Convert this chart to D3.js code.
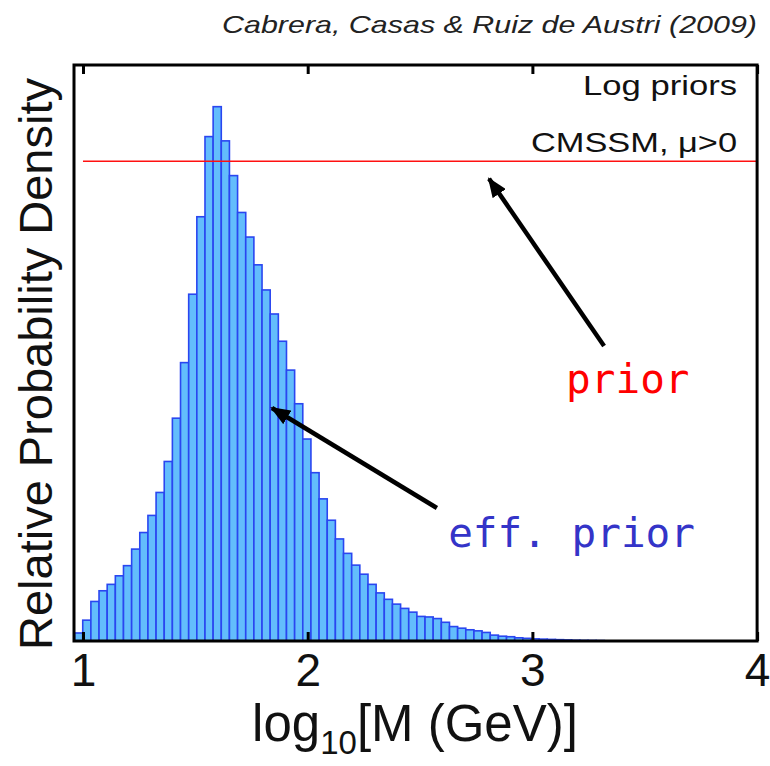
<!DOCTYPE html>
<html><head><meta charset="utf-8">
<script src="https://cdn.jsdelivr.net/npm/d3@7"></script>
<style>html,body{margin:0;padding:0;background:#fff;} svg{display:block}</style>
</head><body><svg id="chart" width="770" height="766"></svg>
<script>
// ---- data ----
const binStart = 0.9626;      // left edge of first histogram bin (log10 M)
const binWidth = 0.03627;     // bin width (log10 M)
const effPrior = [0.015,0.039,0.074,0.094,0.106,0.122,0.141,0.172,0.203,0.235,
  0.278,0.336,0.417,0.521,0.649,0.794,0.944,1.000,0.936,0.871,
  0.802,0.756,0.704,0.657,0.612,0.561,0.507,0.444,0.378,0.315,
  0.266,0.226,0.191,0.164,0.142,0.125,0.106,0.090,0.078,0.069,
  0.061,0.054,0.046,0.045,0.042,0.035,0.027,0.024,0.021,0.019,
  0.016,0.011,0.009,0.008,0.006,0.005,0.004,0.0035,0.003,0.0025,
  0.002,0.0015,0.0012,0.001,0.0008];
const priorLevel = 0.898;      // flat log prior
const priorRange = [1, 4];
const xTicks = [1, 2, 3, 4];
const xDomain = [0.96, 4];
const yDomain = [0, 1.078];
const titleText = "Cabrera, Casas & Ruiz de Austri (2009)";
const infoLines = ["Log priors", "CMSSM, \u03bc>0"];
// annotation arrows in data coordinates: [tailX, tailY, tipX, tipY]
const arrowPrior = [3.319, 0.552, 2.807, 0.865];
const arrowEff = [2.575, 0.249, 1.841, 0.436];
const priorLabelPos = [3.15, 0.464];
const effLabelPos = [2.625, 0.176];

// ---- layout ----
const svg = d3.select("#chart");
const L = 74, R = 757.1, T = 65, B = 641;
const x = d3.scaleLinear().domain(xDomain).range([L, R]);
const y = d3.scaleLinear().domain(yDomain).range([B, T]);

svg.append("defs").append("marker")
  .attr("id", "ah").attr("markerUnits", "userSpaceOnUse")
  .attr("viewBox", "0 0 20 16").attr("refX", 18).attr("refY", 8)
  .attr("markerWidth", 20).attr("markerHeight", 16).attr("orient", "auto")
  .append("path").attr("d", "M0,0 L20,8 L0,16 Z").attr("fill", "#000");

// bars
svg.append("g").selectAll("rect").data(effPrior).join("rect")
  .attr("x", (d, i) => x(binStart + i * binWidth))
  .attr("width", x(binStart + binWidth) - x(binStart))
  .attr("y", d => y(d))
  .attr("height", d => B - y(d))
  .attr("fill", "#63bdfc")
  .attr("stroke", "#2a46f0")
  .attr("stroke-width", 1.6);

// prior line
svg.append("line")
  .attr("x1", x(priorRange[0])).attr("x2", x(priorRange[1]))
  .attr("y1", y(priorLevel)).attr("y2", y(priorLevel))
  .attr("stroke", "#ff1010").attr("stroke-width", 1.6);

// axes
const xb = svg.append("g").attr("transform", `translate(0,${B})`)
  .call(d3.axisBottom(x).tickValues(xTicks).tickSizeInner(-9).tickSizeOuter(0).tickPadding(12).tickFormat(d3.format("d")));
xb.select(".domain").remove();
xb.selectAll(".tick line").attr("stroke", "#000").attr("stroke-width", 3);
xb.selectAll(".tick text").attr("font-family", "Liberation Sans, Arial, sans-serif")
  .attr("font-size", 46).attr("fill", "#111").attr("dy", "0.71em");

const xt = svg.append("g").attr("transform", `translate(0,${T})`)
  .call(d3.axisTop(x).tickValues(xTicks).tickSizeInner(-9).tickSizeOuter(0).tickFormat(""));
xt.select(".domain").remove();
xt.selectAll(".tick line").attr("stroke", "#000").attr("stroke-width", 3);

// frame
svg.append("rect").attr("x", L).attr("y", T).attr("width", R - L).attr("height", B - T)
  .attr("fill", "none").attr("stroke", "#000").attr("stroke-width", 3);

// title
svg.append("text").attr("x", 757).attr("y", 33).attr("text-anchor", "end")
  .attr("font-family", "Liberation Sans, Arial, sans-serif").attr("font-style", "italic")
  .attr("font-size", 24).attr("fill", "#222")
  .attr("textLength", 535).attr("lengthAdjust", "spacingAndGlyphs")
  .text(titleText);

// info lines
const infoY = [95, 152], infoW = [154, 206];
infoLines.forEach((t, i) => {
  svg.append("text").attr("x", 737).attr("y", infoY[i]).attr("text-anchor", "end")
    .attr("font-family", "Liberation Sans, Arial, sans-serif").attr("font-size", 28).attr("fill", "#111")
    .attr("textLength", infoW[i]).attr("lengthAdjust", "spacingAndGlyphs")
    .text(t);
});

// arrows
[arrowPrior, arrowEff].forEach(a => {
  svg.append("line")
    .attr("x1", x(a[0])).attr("y1", y(a[1])).attr("x2", x(a[2])).attr("y2", y(a[3]))
    .attr("stroke", "#000").attr("stroke-width", 4.5).attr("marker-end", "url(#ah)");
});

// annotation labels
svg.append("text").attr("x", x(priorLabelPos[0])).attr("y", y(priorLabelPos[1]))
  .attr("font-family", "DejaVu Sans Mono, monospace").attr("font-size", 41).attr("fill", "#ff0000")
  .text("prior");
svg.append("text").attr("x", x(effLabelPos[0])).attr("y", y(effLabelPos[1]))
  .attr("font-family", "DejaVu Sans Mono, monospace").attr("font-size", 41).attr("fill", "#3434c8")
  .text("eff. prior");

// axis labels
const xl = svg.append("text").attr("x", 415).attr("y", 741).attr("text-anchor", "middle")
  .attr("font-family", "Liberation Sans, Arial, sans-serif").attr("font-size", 51).attr("fill", "#111");
xl.append("tspan").text("log");
xl.append("tspan").attr("font-size", 33).attr("dy", 13).text("10");
xl.append("tspan").attr("dy", -13).text("[M (GeV)]");

svg.append("text").attr("transform", "translate(52,364) rotate(-90)").attr("text-anchor", "middle")
  .attr("font-family", "Liberation Sans, Arial, sans-serif").attr("font-size", 47).attr("fill", "#111")
  .attr("textLength", 572).attr("lengthAdjust", "spacingAndGlyphs")
  .text("Relative Probability Density");
</script>
</body></html>
